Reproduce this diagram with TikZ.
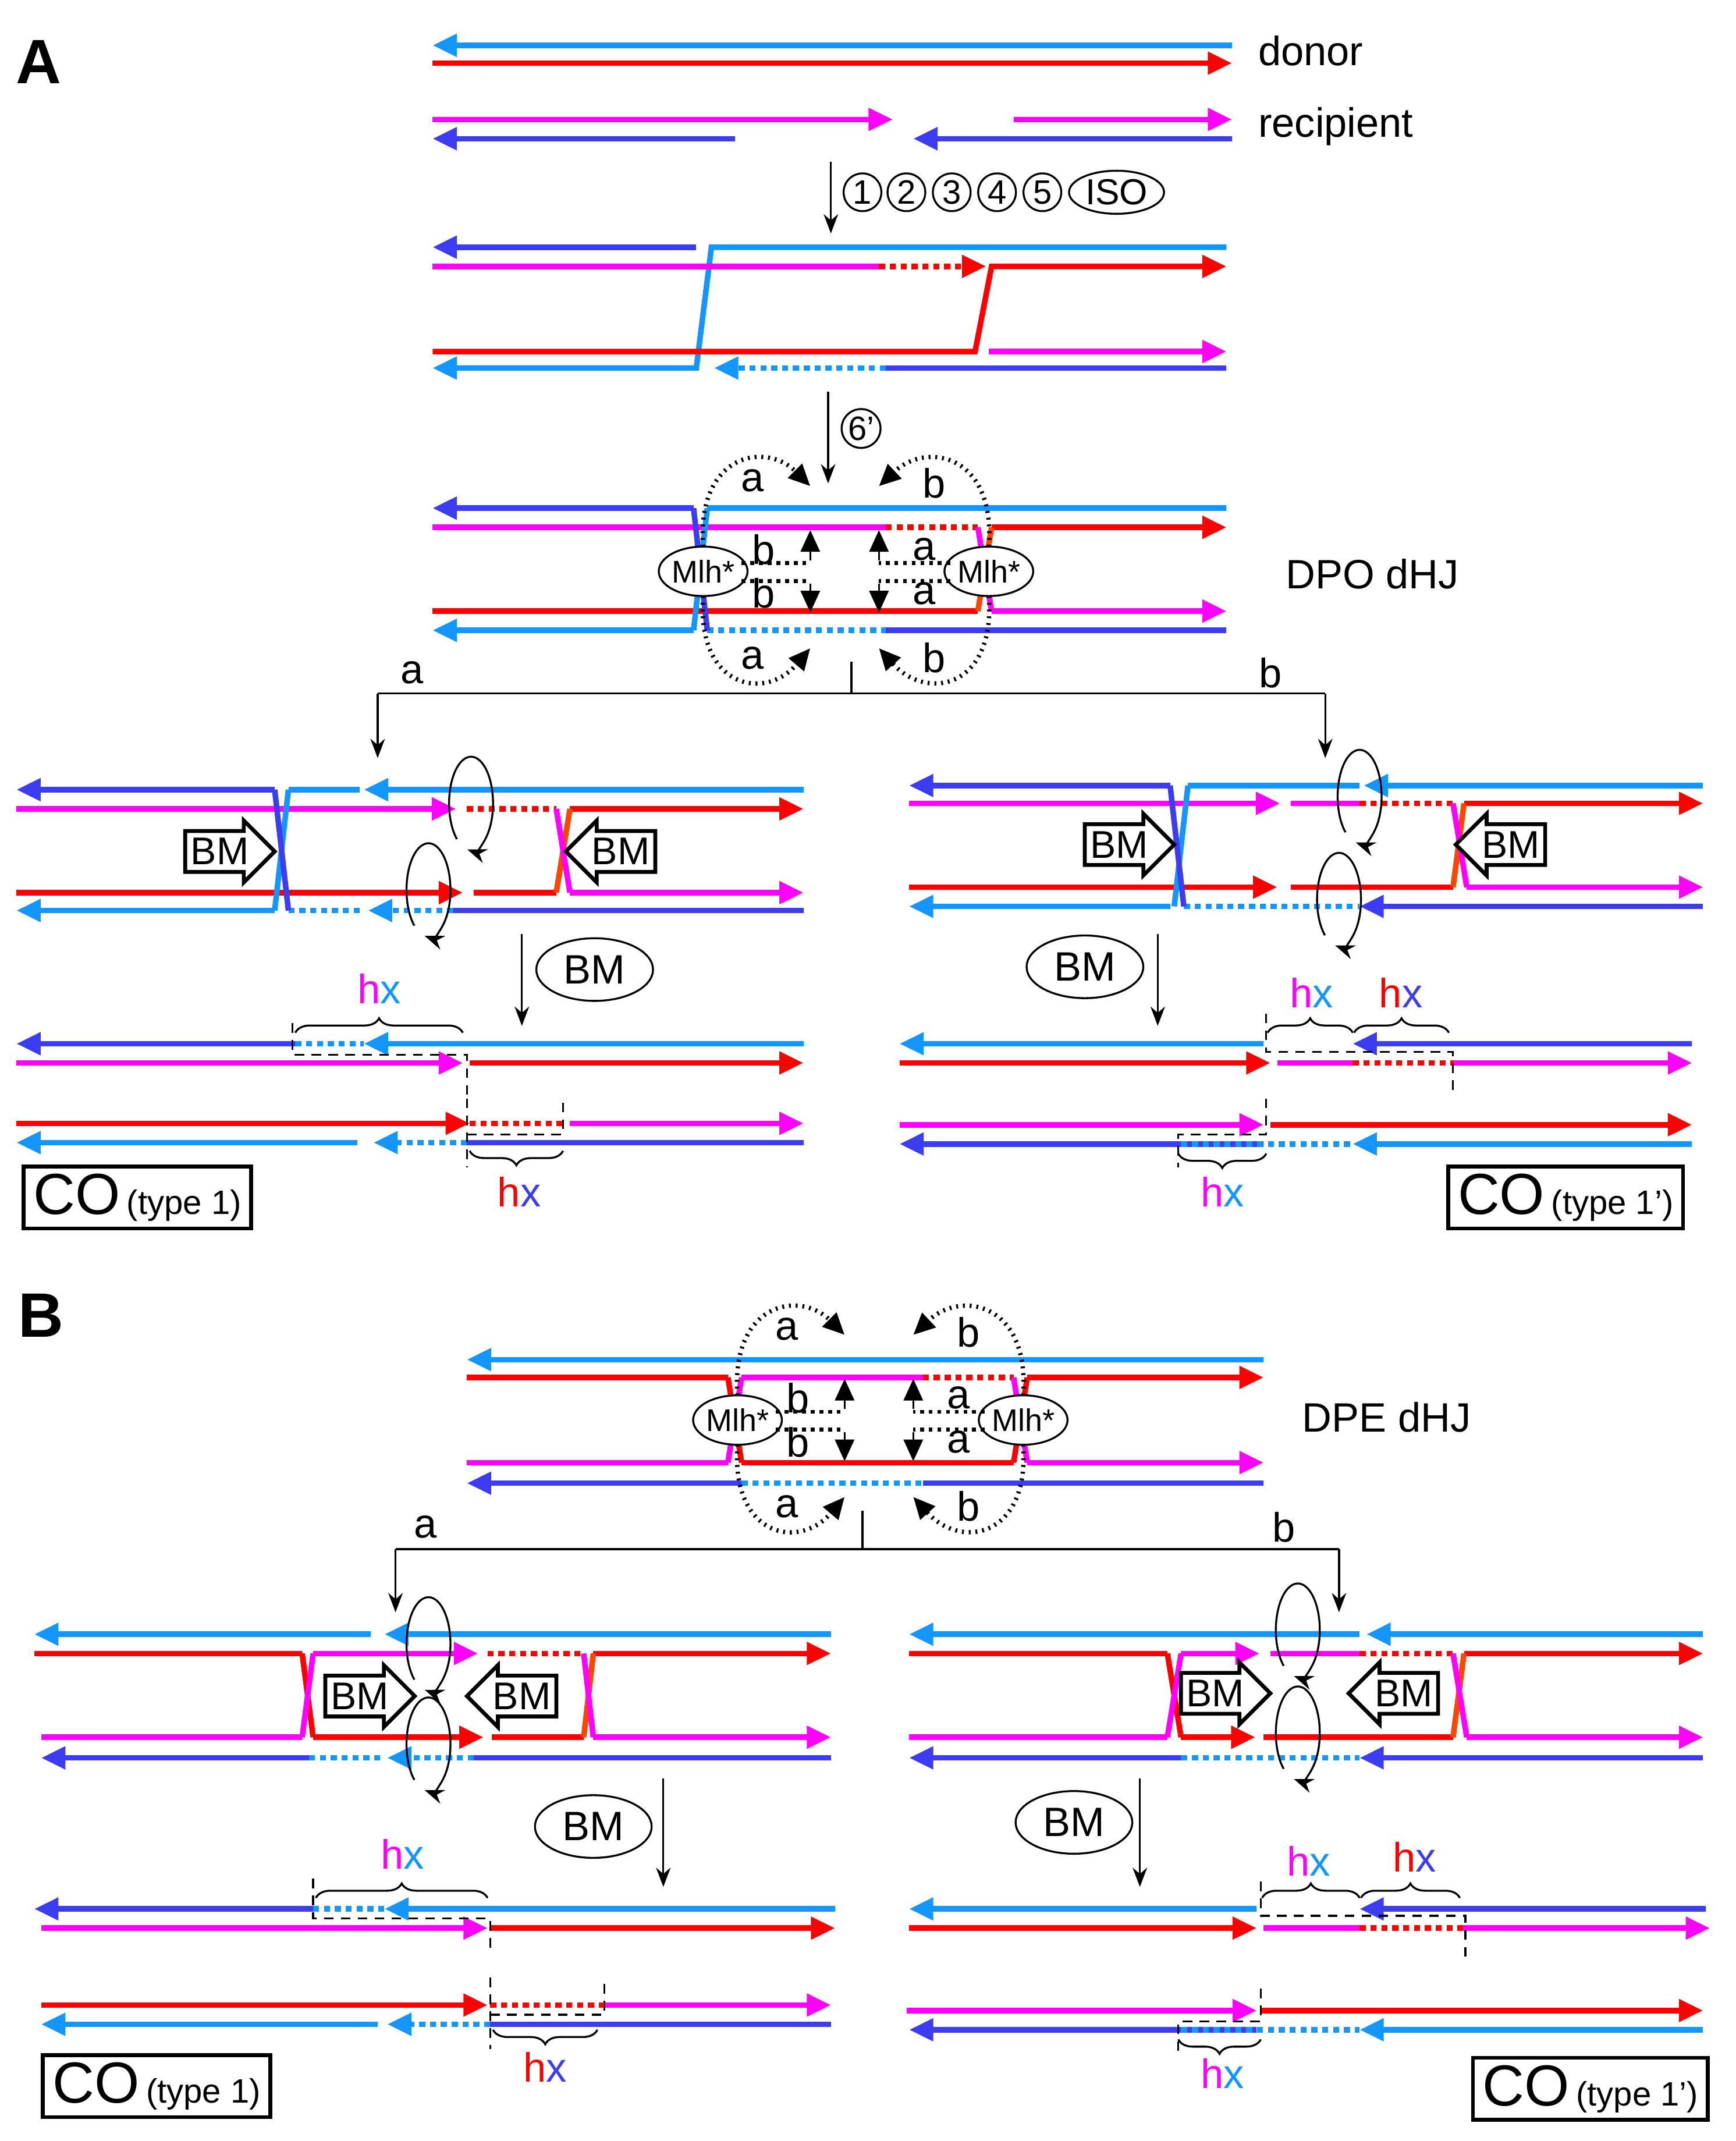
\documentclass[tikz,border=0pt]{standalone}
\usepackage{fontspec}
\setmainfont{Liberation Sans}
\usetikzlibrary{arrows.meta,shapes.geometric,shapes.arrows,decorations.pathreplacing}
\definecolor{lb}{RGB}{20,150,255}
\definecolor{rd}{RGB}{255,0,0}
\definecolor{mg}{RGB}{255,0,255}
\definecolor{vi}{RGB}{60,60,240}
\definecolor{orr}{RGB}{255,70,0}
\tikzset{
  st/.style={line width=2.3pt},
  tip/.style={-{Triangle[length=10pt,width=9pt]}},
  dt/.style={st,dash pattern=on 2.5pt off 2pt},
  dsh/.style={thick,dash pattern=on 4pt off 3pt},
  lab/.style={font=\fontsize{17}{17}\selectfont},
  bm/.style={single arrow,draw,line width=1.6pt,fill=white,minimum height=1.3cm,minimum width=0.9cm,single arrow head extend=4pt,inner sep=1.5pt,font=\fontsize{16}{16}\selectfont},
  mlh/.style={ellipse,draw,thick,fill=white,minimum width=1.15cm,minimum height=0.72cm,inner sep=0pt,font=\fontsize{13}{13}\selectfont},
  num/.style={circle,draw,thick,inner sep=0.5pt,minimum size=0.55cm,font=\fontsize{14}{14}\selectfont},
  br/.style={thick,decorate,decoration={brace,amplitude=6pt}},
  brm/.style={thick,decorate,decoration={brace,amplitude=6pt,mirror}},
  cobox/.style={draw,line width=1.6pt,inner xsep=4pt,inner ysep=3pt},
}
% strands: colour, from x, to x, y
\newcommand\sA[4]{\draw[st,#1,tip] (#2,#4) -- (#3,#4);}
\newcommand\sN[4]{\draw[st,#1] (#2,#4) -- (#3,#4);}
\newcommand\sD[4]{\draw[dt,#1] (#2,#4) -- (#3,#4);}
\newcommand\sDA[4]{\draw[dt,#1,tip] (#2,#4) -- (#3,#4);}
% crossing: colour, x1,y1,x2,y2
\newcommand\sX[5]{\draw[st,#1] (#2,#3) -- (#4,#5);}
% rotation arrow
\newcommand\Rot[2]{\draw[thick,-{Stealth[length=8pt]}] ([shift={(#1,#2)}]230:0.32cm and 0.68cm) arc[start angle=230,end angle=-100,x radius=0.32cm,y radius=0.68cm];}
\newcommand\hx[2]{\textcolor{#1}{h}\textcolor{#2}{x}}
\newcommand\CO[1]{{\fontsize{24}{24}\selectfont CO} {\fontsize{14}{14}\selectfont(type #1)}}
% Mlh annotation: left x, right x, centre y
\newcommand\Ann[3]{%
  \node[mlh] (ml#3) at (#1,#3) {Mlh*};
  \node[mlh] (mr#3) at (#2,#3) {Mlh*};
  \draw[thick,dotted,line width=1.8pt,-{Triangle[length=9pt,width=8pt]}] (#1,#3-18) .. controls (#1-5,#3-85) and (#1+45,#3-95) .. (#1+78,#3-62);
  \draw[thick,dotted,line width=1.8pt,-{Triangle[length=9pt,width=8pt]}] (#2,#3-18) .. controls (#2+5,#3-85) and (#2-45,#3-95) .. (#2-80,#3-62);
  \draw[thick,dotted,line width=1.8pt,-{Triangle[length=9pt,width=8pt]}] (#1,#3+18) .. controls (#1-5,#3+85) and (#1+45,#3+95) .. (#1+78,#3+56);
  \draw[thick,dotted,line width=1.8pt,-{Triangle[length=9pt,width=8pt]}] (#2,#3+18) .. controls (#2+5,#3+85) and (#2-45,#3+95) .. (#2-80,#3+56);
  \draw[dotted,line width=1.6pt] (#1+28,#3-6) -- (#1+78,#3-6) (#1+28,#3+7) -- (#1+78,#3+7);
  \draw[dotted,line width=1.6pt] (#2-28,#3-6) -- (#2-80,#3-6) (#2-28,#3+7) -- (#2-80,#3+7);
  \draw[thick,-{Triangle[length=9pt,width=8pt]}] (#1+78,#3-8) -- (#1+78,#3-30);
  \draw[thick,-{Triangle[length=9pt,width=8pt]}] (#1+78,#3+9) -- (#1+78,#3+30);
  \draw[thick,-{Triangle[length=9pt,width=8pt]}] (#2-80,#3-8) -- (#2-80,#3-30);
  \draw[thick,-{Triangle[length=9pt,width=8pt]}] (#2-80,#3+9) -- (#2-80,#3+30);
  \node[lab] at (#1+36,#3-66) {a}; \node[lab] at (#2-40,#3-64) {b};
  \node[lab] at (#1+36,#3+63) {a}; \node[lab] at (#2-40,#3+63) {b};
  \node[lab] at (#1+44,#3-16) {b}; \node[lab] at (#1+44,#3+16) {b};
  \node[lab] at (#2-47,#3-16) {a}; \node[lab] at (#2-47,#3+16) {a};
}
\begin{document}
\begin{tikzpicture}[x=0.02cm,y=-0.02cm]
\useasboundingbox (0,0) rectangle (1264,1559);
\node[font=\fontsize{26}{26}\selectfont\bfseries] (lA) at (28,45) {A};
\node[font=\fontsize{26}{26}\selectfont\bfseries] (lB) at (30,958) {B};
% ---- top: donor / recipient
\sA{lb}{897}{315}{33} \sA{rd}{315}{897}{46}
\node[lab,anchor=west] (don) at (910,37) {donor};
\sA{mg}{315}{650}{87} \sA{vi}{535}{315}{101}
\sA{mg}{738}{897}{87} \sA{vi}{897}{665}{101}
\node[lab,anchor=west] (rec) at (910,92) {recipient};
\draw[thick,-{Stealth[length=8pt]}] (605,118) -- (605,170);
\node[num] (n1) at (628,140) {1}; \node[num] (n2) at (660,140) {2};
\node[num] (n3) at (693,140) {3}; \node[num] (n4) at (726,140) {4};
\node[num] (n5) at (759,140) {5};
\node[ellipse,draw,thick,inner sep=1pt,minimum width=1.3cm,minimum height=0.6cm,font=\fontsize{15}{15}\selectfont] (iso) at (813,140) {ISO};
% ---- intermediate 1
\sA{vi}{507}{315}{180}
\draw[st,lb,tip] (893,180) -- (518,180) -- (507,268) -- (315,268);
\sN{mg}{315}{640}{194} \sDA{rd}{640}{718}{194}
\draw[st,rd,tip] (315,256) -- (710,256) -- (722,194) -- (893,194);
\sA{mg}{720}{893}{256}
\sDA{lb}{645}{520}{268} \sN{vi}{645}{893}{268}
\draw[thick,-{Stealth[length=8pt]}] (603,285) -- (603,352);
\node[num] (n6) at (627,312) {6'};
% ---- DPO dHJ
\sA{vi}{505}{315}{370} \sN{lb}{515}{893}{370}
\sN{mg}{315}{645}{384} \sD{rd}{645}{712}{384} \sA{rd}{722}{893}{384}
\sN{rd}{315}{712}{445} \sA{mg}{722}{893}{445}
\sA{lb}{505}{315}{459} \sD{lb}{515}{645}{459} \sN{vi}{645}{893}{459}
\sX{lb}{515}{370}{505}{459} \sX{vi}{505}{370}{515}{459}
\sX{orr}{712}{445}{722}{384} \sX{mg}{712}{384}{722}{445}
\Ann{512}{720}{416}
\node[lab,anchor=west] (dpo) at (930,418) {DPO dHJ};
\draw[thick] (620,482) -- (620,505);
\draw[thick] (275,505) -- (965,505);
\draw[thick,-{Stealth[length=8pt]}] (275,505) -- (275,552);
\draw[thick,-{Stealth[length=8pt]}] (965,505) -- (965,552);
\node[lab] (a1) at (300,490) {a}; \node[lab] (b1) at (925,490) {b};
% ---- A left panel
\sA{vi}{200}{12}{575} \sN{lb}{210}{262}{575} \sA{lb}{585}{265}{575}
\sA{mg}{12}{332}{589} \sD{rd}{340}{405}{589} \sA{rd}{415}{585}{589}
\sA{rd}{12}{337}{650} \sN{rd}{345}{405}{650} \sA{mg}{415}{585}{650}
\sA{lb}{200}{12}{663} \sD{lb}{210}{265}{663} \sDA{lb}{330}{268}{663} \sN{vi}{330}{585}{663}
\sX{lb}{210}{575}{200}{663} \sX{vi}{200}{575}{210}{663}
\sX{orr}{405}{650}{415}{589} \sX{mg}{405}{589}{415}{650}
\Rot{343}{585} \Rot{312}{648}
\node[bm] (bm1) at (160,620) {BM};
\node[bm,shape border rotate=180] (bm2) at (452,620) {BM};
\draw[thick,-{Stealth[length=8pt]}] (380,680) -- (380,747);
\node[ellipse,draw,thick,minimum width=1.7cm,minimum height=0.7cm,lab] (bm3) at (433,706) {BM};
% A left result
\sA{vi}{215}{12}{760} \sD{lb}{215}{265}{760} \sA{lb}{585}{265}{760}
\sA{mg}{12}{337}{774} \sA{rd}{342}{585}{774}
\sA{rd}{12}{342}{818} \sD{rd}{342}{410}{818} \sA{mg}{415}{585}{818}
\sA{lb}{260}{12}{832} \sDA{lb}{340}{272}{832} \sN{vi}{340}{585}{832}
\draw[dsh] (213,745) -- (213,768) -- (340,768) -- (340,800);
\draw[dsh] (340,800) -- (340,850) (340,826) -- (410,826) -- (410,800);
\draw[br] (215,752) -- (337,752);
\node[lab] (hx1) at (276,720) {\hx{mg}{lb}};
\draw[brm] (342,838) -- (410,838);
\node[lab] (hx2) at (378,868) {\hx{rd}{vi}};
\node[cobox] (co1) at (100,872) {\CO{1}};
% ---- A right panel
\sA{vi}{852}{662}{572} \sN{lb}{865}{990}{572} \sA{lb}{1240}{993}{572}
\sA{mg}{662}{932}{585} \sN{mg}{940}{990}{585} \sD{rd}{990}{1058}{585} \sA{rd}{1066}{1240}{585}
\sA{rd}{662}{930}{646} \sN{rd}{940}{1058}{646} \sA{mg}{1068}{1240}{646}
\sA{lb}{852}{662}{660} \sD{lb}{862}{990}{660} \sA{vi}{1240}{990}{660}
\sX{lb}{865}{572}{855}{660} \sX{vi}{852}{572}{862}{660}
\sX{orr}{1058}{646}{1066}{585} \sX{mg}{1058}{585}{1068}{646}
\Rot{990}{580} \Rot{975}{655}
\node[bm] (bm4) at (815,615) {BM};
\node[bm,shape border rotate=180] (bm5) at (1100,615) {BM};
\draw[thick,-{Stealth[length=8pt]}] (843,680) -- (843,747);
\node[ellipse,draw,thick,minimum width=1.7cm,minimum height=0.7cm,lab] (bm6) at (790,704) {BM};
% A right result
\sA{lb}{920}{655}{760} \sA{vi}{1232}{985}{760}
\sA{rd}{655}{925}{774} \sN{mg}{930}{985}{774} \sD{rd}{985}{1058}{774} \sA{mg}{1058}{1232}{774}
\sA{mg}{655}{920}{819} \sA{rd}{925}{1232}{819}
\sA{vi}{920}{655}{833} \sD{lb}{860}{985}{833} \sA{lb}{1232}{985}{833}
\draw[dsh] (922,738) -- (922,766) -- (1058,766) -- (1058,797);
\draw[dsh] (922,800) -- (922,826) -- (858,826) -- (858,850);
\draw[br] (923,752) -- (985,752); \draw[br] (986,752) -- (1055,752);
\node[lab] (hx3) at (955,723) {\hx{mg}{lb}};
\node[lab] (hx4) at (1020,723) {\hx{rd}{vi}};
\draw[brm] (858,840) -- (922,840);
\node[lab] (hx5) at (890,868) {\hx{mg}{lb}};
\node[cobox] (co2) at (1140,872) {\CO{1'}};
% ---- DPE dHJ
\sA{lb}{920}{340}{990}
\sN{rd}{340}{530}{1003} \sN{mg}{540}{672}{1003} \sD{rd}{672}{738}{1003} \sA{rd}{748}{920}{1003}
\sN{mg}{340}{530}{1065} \sN{rd}{540}{738}{1065} \sA{mg}{748}{920}{1065}
\sA{vi}{540}{340}{1080} \sD{lb}{540}{672}{1080} \sN{vi}{672}{920}{1080}
\sX{rd}{530}{1003}{540}{1065} \sX{mg}{530}{1065}{540}{1003}
\sX{rd}{748}{1003}{738}{1065} \sX{mg}{738}{1003}{748}{1065}
\Ann{537}{745}{1034}
\node[lab,anchor=west] (dpe) at (942,1032) {DPE dHJ};
\draw[thick] (628,1100) -- (628,1128);
\draw[thick] (288,1128) -- (975,1128);
\draw[thick,-{Stealth[length=8pt]}] (288,1128) -- (288,1174);
\draw[thick,-{Stealth[length=8pt]}] (975,1128) -- (975,1174);
\node[lab] (a2) at (310,1112) {a}; \node[lab] (b2) at (935,1112) {b};
% ---- B left panel
\sA{lb}{270}{25}{1190} \sA{lb}{605}{280}{1190}
\sN{rd}{25}{220}{1204} \sA{mg}{228}{348}{1204} \sD{rd}{355}{425}{1204} \sA{rd}{432}{605}{1204}
\sN{mg}{30}{220}{1265} \sA{rd}{228}{352}{1265} \sN{rd}{358}{425}{1265} \sA{mg}{432}{605}{1265}
\sA{vi}{225}{30}{1280} \sD{lb}{225}{280}{1280} \sDA{lb}{345}{282}{1280} \sN{vi}{345}{605}{1280}
\sX{rd}{220}{1204}{228}{1265} \sX{mg}{220}{1265}{228}{1204}
\sX{orr}{425}{1265}{432}{1204} \sX{mg}{425}{1204}{432}{1265}
\Rot{312}{1197} \Rot{312}{1270}
\node[bm] (bm7) at (262,1235) {BM};
\node[bm,shape border rotate=180] (bm8) at (380,1235) {BM};
\draw[thick,-{Stealth[length=8pt]}] (483,1295) -- (483,1374);
\node[ellipse,draw,thick,minimum width=1.7cm,minimum height=0.7cm,lab] (bm9) at (432,1330) {BM};
% B left result
\sA{vi}{228}{25}{1390} \sD{lb}{228}{280}{1390} \sA{lb}{608}{280}{1390}
\sA{mg}{30}{355}{1404} \sA{rd}{357}{608}{1404}
\sA{rd}{30}{355}{1460} \sD{rd}{357}{440}{1460} \sA{mg}{440}{605}{1460}
\sA{lb}{275}{30}{1474} \sDA{lb}{357}{282}{1474} \sN{vi}{357}{605}{1474}
\draw[dsh] (228,1368) -- (228,1397) -- (357,1397) -- (357,1420);
\draw[dsh] (357,1440) -- (357,1492) (357,1467) -- (440,1467) -- (440,1440);
\draw[br] (230,1382) -- (355,1382);
\node[lab] (hx6) at (293,1350) {\hx{mg}{lb}};
\draw[brm] (359,1478) -- (435,1478);
\node[lab] (hx7) at (397,1505) {\hx{rd}{vi}};
\node[cobox] (co3) at (114,1519) {\CO{1}};
% ---- B right panel
\sA{lb}{990}{662}{1190} \sA{lb}{1240}{995}{1190}
\sN{rd}{662}{850}{1204} \sA{mg}{860}{917}{1204} \sN{mg}{925}{990}{1204} \sD{rd}{990}{1058}{1204} \sA{rd}{1066}{1240}{1204}
\sN{mg}{662}{850}{1265} \sA{rd}{860}{914}{1265} \sN{rd}{920}{1058}{1265} \sA{mg}{1068}{1240}{1265}
\sA{vi}{860}{662}{1280} \sD{lb}{860}{990}{1280} \sA{vi}{1240}{990}{1280}
\sX{rd}{850}{1204}{860}{1265} \sX{mg}{850}{1265}{860}{1204}
\sX{orr}{1058}{1265}{1066}{1204} \sX{mg}{1058}{1204}{1068}{1265}
\Rot{945}{1187} \Rot{945}{1262}
\node[bm] (bm10) at (885,1233) {BM};
\node[bm,shape border rotate=180] (bm11) at (1022,1233) {BM};
\draw[thick,-{Stealth[length=8pt]}] (830,1295) -- (830,1374);
\node[ellipse,draw,thick,minimum width=1.7cm,minimum height=0.7cm,lab] (bm12) at (782,1327) {BM};
% B right result
\sA{lb}{915}{662}{1390} \sA{vi}{1242}{990}{1390}
\sA{rd}{662}{915}{1404} \sN{mg}{920}{990}{1404} \sD{rd}{990}{1065}{1404} \sA{mg}{1065}{1245}{1404}
\sA{mg}{660}{915}{1464} \sA{rd}{918}{1240}{1464}
\sA{vi}{915}{662}{1478} \sD{lb}{860}{990}{1478} \sA{lb}{1240}{990}{1478}
\draw[dsh] (918,1370) -- (918,1395) -- (1067,1395) -- (1067,1425);
\draw[dsh] (918,1448) -- (918,1472) -- (858,1472) -- (858,1495);
\draw[br] (919,1382) -- (990,1382); \draw[br] (991,1382) -- (1063,1382);
\node[lab] (hx8) at (953,1355) {\hx{mg}{lb}};
\node[lab] (hx9) at (1030,1352) {\hx{rd}{vi}};
\draw[brm] (858,1485) -- (918,1485);
\node[lab] (hx10) at (890,1510) {\hx{mg}{lb}};
\node[cobox] (co4) at (1158,1521) {\CO{1'}};
\end{tikzpicture}
\end{document}
